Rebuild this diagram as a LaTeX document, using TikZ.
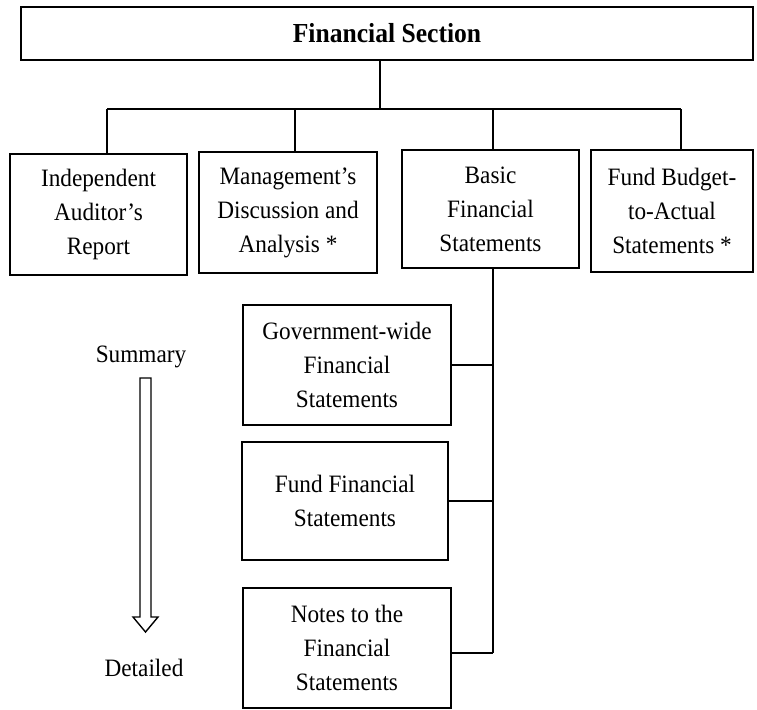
\documentclass[tikz,border=0pt]{standalone}
\usepackage{fontspec}
\setmainfont[FakeStretch=0.93]{Liberation Serif}
\begin{document}
\begin{tikzpicture}[x=1pt,y=-1pt,
  box/.style={draw,line width=1.6pt,align=center,inner sep=0pt,
    font=\fontsize{25}{34}\selectfont},
  lbl/.style={inner sep=0pt,font=\fontsize{25}{34}\selectfont},
  link/.style={line width=1.6pt}]
\useasboundingbox (0,0) rectangle (757,709);
\node[box,minimum width=732pt,minimum height=53pt,font=\fontsize{27.5}{34}\selectfont\bfseries] (fs) at (387,33.5) {Financial Section};
\node[box,minimum width=177pt,minimum height=121pt] (b1) at (98.5,214.5) {Independent\\Auditor's\\Report};
\node[box,minimum width=178pt,minimum height=121pt] (b2) at (288,212.5) {Management's\\Discussion and\\Analysis *};
\node[box,minimum width=177pt,minimum height=118pt] (b3) at (490.5,209) {Basic\\Financial\\Statements};
\node[box,minimum width=162pt,minimum height=122pt] (b4) at (672,211) {Fund Budget-\\to-Actual\\Statements *};
\node[box,minimum width=208pt,minimum height=120pt] (gov) at (347,365) {Government-wide\\Financial\\Statements};
\node[box,minimum width=206pt,minimum height=118pt] (fund) at (345,501) {Fund Financial\\Statements};
\node[box,minimum width=208pt,minimum height=120pt] (notes) at (347,648) {Notes to the\\Financial\\Statements};
\node[lbl] (sum) at (141,357) {Summary};
\node[lbl] (det) at (144,668) {Detailed};
% connectors
\coordinate (top) at (380,109);
\coordinate (d1) at (107,109);
\coordinate (d2) at (295,109);
\coordinate (d3) at (493,109);
\coordinate (d4) at (681,109);
\coordinate (s3) at (493,653);
\draw[link] (top |- fs.south) -- (top);
\draw[link] (d1) -- (d4);
\draw[link] (d1) -- (d1 |- b1.north);
\draw[link] (d2) -- (d2 |- b2.north);
\draw[link] (d3) -- (d3 |- b3.north);
\draw[link] (d4) -- (d4 |- b4.north);
\draw[link] (s3 |- b3.south) -- (s3);
\draw[link] (gov.east) -- (gov.east -| s3);
\draw[link] (fund.east) -- (fund.east -| s3);
\draw[link] (notes.east |- s3) -- (s3);
% summary-to-detailed arrow
\draw[line width=1.4pt,line join=miter]
  (140,378) -- (151,378) -- (151,617) -- (158,617) -- (145.5,632)
  -- (133,617) -- (140,617) -- cycle;
\end{tikzpicture}
\end{document}
